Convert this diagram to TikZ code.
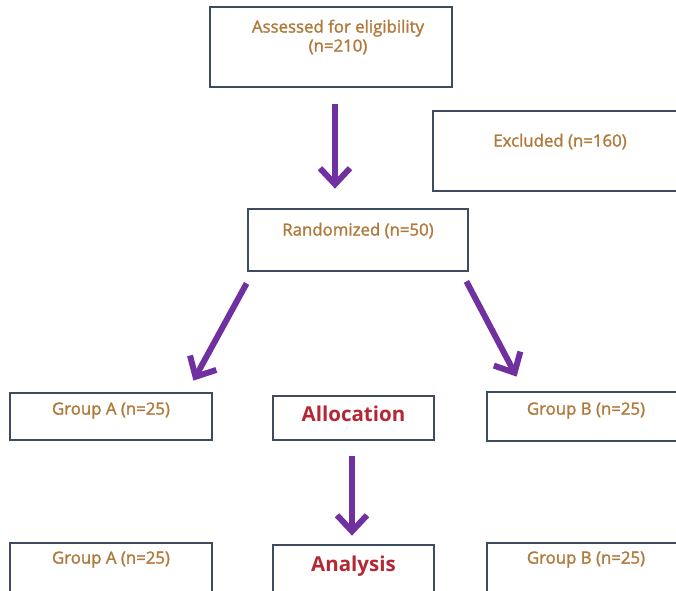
\documentclass[tikz,border=0pt]{standalone}
\usepackage{fontspec}
\setmainfont{Open Sans}
\newfontfamily\lblfont{Open Sans}[FakeBold=1.6]
\usetikzlibrary{arrows.meta}

\definecolor{boxline}{RGB}{62,76,92}
\definecolor{txtbrown}{RGB}{176,122,60}
\definecolor{txtred}{RGB}{178,40,52}
\definecolor{arrpurple}{RGB}{112,48,160}

\begin{document}
\begin{tikzpicture}[x=1pt, y=-1pt,
        box/.style={draw=boxline, line width=2.8pt, fill=white, inner sep=0pt},
        lbl/.style={text=txtbrown, font=\lblfont\fontsize{16.8}{19}\selectfont, align=center, inner sep=0pt, anchor=base},
        big/.style={text=txtred, font=\fontsize{20.5}{22}\selectfont\bfseries, inner sep=0pt, anchor=base},
        arr/.style={draw=arrpurple, line width=6pt, -{Straight Barb[length=16pt, width=30pt]}}]
    \clip (0,0) rectangle (676,590);
    % boxes
    \node[box, minimum width=242pt, minimum height=80pt] (a)   at (331,47)    {};
    \node[box, minimum width=254pt, minimum height=80pt] (ex)  at (560,151)   {};
    \node[box, minimum width=220pt, minimum height=62pt] (r)   at (358,240)   {};
    \node[box, minimum width=202pt, minimum height=47pt] (ga1) at (111,416.5) {};
    \node[box, minimum width=161pt, minimum height=44pt] (al)  at (353.5,418) {};
    \node[box, minimum width=198pt, minimum height=49pt] (gb1) at (586,416.5) {};
    \node[box, minimum width=202pt, minimum height=60pt] (ga2) at (111,573)   {};
    \node[box, minimum width=161pt, minimum height=60pt] (an)  at (353.5,575) {};
    \node[box, minimum width=198pt, minimum height=60pt] (gb2) at (586,573)   {};
    % texts
    \node[lbl] (ta)   at ([shift={(7,46)}]a.north) {Assessed for eligibility\\(n=210)};
    \node[lbl] (tex)  at ([yshift=-37pt]ex.north)  {Excluded (n=160)};
    \node[lbl] (tr)   at ([yshift=-28pt]r.north)   {Randomized (n=50)};
    \node[lbl] (tga1) at ([yshift=-23pt]ga1.north) {Group A (n=25)};
    \node[big] (tal)  at ([yshift=-27pt]al.north)  {Allocation};
    \node[lbl] (tgb1) at ([yshift=-24pt]gb1.north) {Group B (n=25)};
    \node[lbl] (tga2) at ([yshift=-22pt]ga2.north) {Group A (n=25)};
    \node[big] (tan)  at ([yshift=-28pt]an.north)  {Analysis};
    \node[lbl] (tgb2) at ([yshift=-22pt]gb2.north) {Group B (n=25)};
    % arrows
    \draw[arr] ([shift={(4,16)}]a.south) -- ([shift={(-23,-19)}]r.north);
    \draw[arr] ([shift={(0,11)}]r.south west) -- ([shift={(-20,-11)}]ga1.north east);
    \draw[arr] ([shift={(-3,9)}]r.south east) -- ([shift={(31,-14)}]gb1.north west);
    \draw[arr] ([shift={(-1.5,15)}]al.south) -- ([shift={(-1.5,-8)}]an.north);
\end{tikzpicture}
\end{document}
